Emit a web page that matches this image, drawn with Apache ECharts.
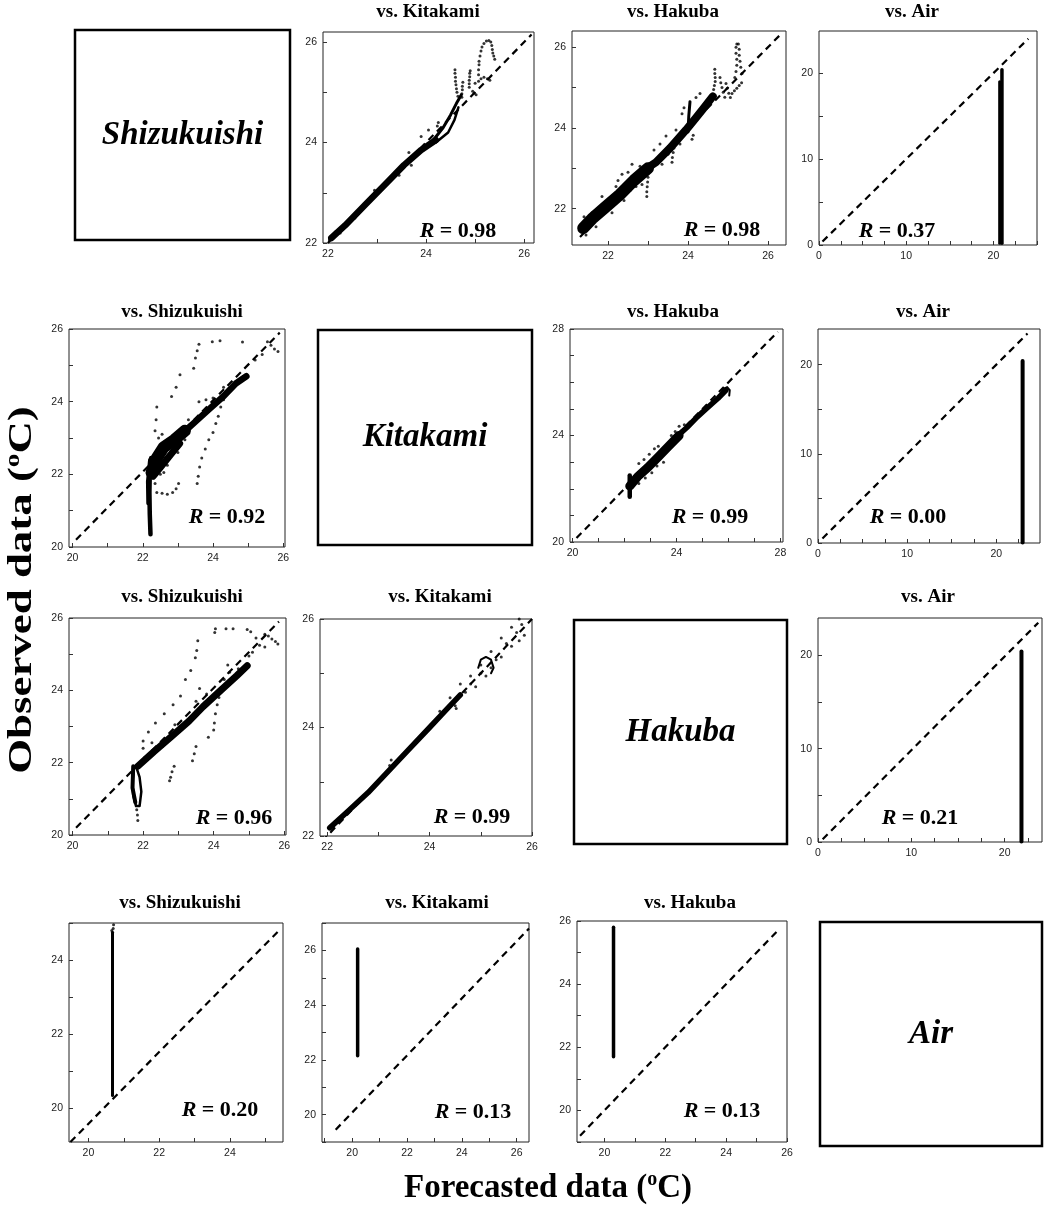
<!DOCTYPE html>
<html><head><meta charset="utf-8">
<script src="https://cdn.jsdelivr.net/npm/echarts@6.0.0/dist/echarts.min.js"></script>
<style>html,body{margin:0;padding:0;background:#fff}#c{width:1044px;height:1209px}</style>
</head><body><div id="c"></div>
<script>
// ---------------- names / labels ----------------
const stations = ['Shizukuishi', 'Kitakami', 'Hakuba', 'Air'];
const R_vals = ['0.98', '0.98', '0.37', '0.92', '0.99', '0.00', '0.96', '0.99', '0.21', '0.20', '0.13', '0.13'];
const xTitle = 'Forecasted data';
const yTitle = 'Observed data';

// ---------------- tick labels ----------------
const lab_22_26 = [22, 24, 26];
const tick_22_26 = [22, 23, 24, 25, 26];
const lab_20_26 = [20, 22, 24, 26];
const tick_20_26 = [20, 21, 22, 23, 24, 25, 26];
const tick_19_27 = [19, 20, 21, 22, 23, 24, 25, 26, 27];
const lab_20_28 = [20, 24, 28];
const tick_20_28 = [20, 21, 22, 23, 24, 25, 26, 27, 28];
const lab_0_20 = [0, 10, 20];
const tick_0_25_x = [0, 2.5, 5, 7.5, 10, 12.5, 15, 17.5, 20, 22.5, 25];
const tick_0_25_y = [0, 5, 10, 15, 20];
const lab_20_24 = [20, 22, 24];
const tick_19_25 = [20, 21, 22, 23, 24, 25];

// ---------------- row 1: Shizukuishi ----------------
const shiz_kit_diag = [[22.0, 22.0], [26.15, 26.15]];
const shiz_kit_band1 = [[22.07, 22.1], [22.35, 22.35], [22.75, 22.75], [23.2, 23.2], [23.55, 23.55], [23.9, 23.85], [24.2, 24.05]];
const shiz_kit_band2 = [[24.15, 24.05], [24.35, 24.3], [24.5, 24.55], [24.62, 24.78], [24.72, 24.95]];
const shiz_kit_band3 = [[24.2, 24.0], [24.45, 24.2], [24.58, 24.45], [24.66, 24.7]];
const shiz_kit_dots = [[22.15, 22.22], [22.25, 22.2], [23.9, 24.12], [24.05, 24.25], [24.23, 24.33], [24.25, 24.4],
  [24.59, 25.45], [24.59, 25.38], [24.6, 25.3], [24.6, 25.22], [24.61, 25.15], [24.62, 25.07], [24.63, 25.0], [24.65, 24.92],
  [24.73, 24.9], [24.73, 24.97], [24.74, 25.05], [24.74, 25.12], [24.75, 25.2],
  [24.88, 25.1], [24.88, 25.17], [24.88, 25.24], [24.89, 25.31], [24.89, 25.38], [24.9, 25.43],
  [24.95, 25.02], [25.0, 25.18], [25.07, 25.22], [25.12, 25.27], [25.18, 25.3], [25.25, 25.27], [25.3, 25.24],
  [25.07, 25.35], [25.07, 25.45], [25.08, 25.55], [25.08, 25.62], [25.1, 25.72], [25.12, 25.82], [25.14, 25.9],
  [25.18, 25.97], [25.23, 26.02], [25.28, 26.03], [25.32, 26.0], [25.34, 25.93], [25.35, 25.85], [25.36, 25.78],
  [25.38, 25.72], [25.4, 25.66], [24.98, 24.98], [25.02, 24.95], [22.55, 22.5], [22.95, 23.05], [23.45, 23.35],
  [23.65, 23.8], [23.7, 23.55]];

const shiz_hak_diag = [[21.3, 21.3], [26.3, 26.3]];
const shiz_hak_band1 = [[21.38, 21.52], [21.6, 21.75], [21.95, 22.05], [22.3, 22.35], [22.65, 22.7], [23.0, 23.0]];
const shiz_hak_band2 = [[22.9, 22.95], [23.2, 23.15], [23.55, 23.5], [23.95, 23.95], [24.2, 24.25], [24.4, 24.5], [24.62, 24.78]];
const shiz_hak_band3 = [[24.0, 23.9], [24.02, 24.3], [24.05, 24.65]];
const shiz_hak_dots = [[21.45, 21.35], [21.5, 21.7], [21.6, 21.9], [21.75, 22.0], [21.85, 22.3], [22.05, 22.25], [22.2, 22.55],
  [22.35, 22.85], [22.5, 22.9], [22.55, 22.45], [22.7, 22.55], [22.8, 23.05], [23.3, 23.6], [23.45, 23.8], [23.5, 23.35],
  [23.7, 23.95], [23.85, 24.35], [23.9, 24.5], [24.2, 24.75], [24.3, 24.85], [24.45, 24.6], [21.4, 21.8], [21.7, 21.55],
  [22.1, 21.9], [22.4, 22.2], [22.25, 22.7], [22.6, 23.1], [22.85, 22.6], [23.15, 23.45], [23.35, 23.1], [23.8, 23.6],
  [22.97, 22.3], [22.97, 22.42], [22.98, 22.54], [22.99, 22.66], [23.0, 22.78], [23.02, 22.9],
  [23.6, 23.15], [23.61, 23.27], [23.63, 23.39], [23.65, 23.5], [24.1, 23.72], [24.13, 23.82],
  [24.67, 25.45], [24.67, 25.35], [24.68, 25.25], [24.68, 25.15], [24.66, 25.05], [24.64, 24.95],
  [24.8, 25.25], [24.82, 25.12], [24.85, 25.0], [24.88, 24.88], [24.92, 24.76],
  [24.95, 25.1], [24.98, 24.98], [25.02, 24.86], [25.06, 24.75],
  [25.1, 24.85], [25.16, 24.92], [25.22, 24.98], [25.28, 25.05], [25.34, 25.12],
  [25.17, 25.25], [25.2, 25.4], [25.22, 25.55], [25.22, 25.7], [25.2, 25.85], [25.2, 26.0], [25.22, 26.08],
  [25.26, 26.08], [25.28, 25.95], [25.28, 25.8], [25.3, 25.65], [25.32, 25.5], [25.35, 25.35]];

const shiz_air_diag = [[0.4, 0.4], [24.0, 24.0]];
const shiz_air_band1 = [[20.72, 0.2], [20.72, 19.0]];
const shiz_air_band2 = [[20.98, 0.2], [20.98, 20.4]];

// ---------------- row 2: Kitakami ----------------
const kit_shiz_diag = [[20.1, 20.2], [25.9, 25.9]];
const kit_shiz_spike = [[22.22, 20.35], [22.2, 20.9], [22.19, 21.5], [22.2, 22.0], [22.24, 22.45]];
const kit_shiz_spike2 = [[22.15, 21.2], [22.14, 21.8], [22.2, 22.4]];
const kit_shiz_blob = [[22.25, 22.05], [22.4, 22.45], [22.6, 22.75], [22.9, 22.95], [23.2, 23.2]];
const kit_shiz_blob2 = [[22.3, 21.95], [22.55, 22.25], [22.8, 22.55], [23.05, 22.85]];
const kit_shiz_band = [[23.1, 23.1], [23.5, 23.45], [23.9, 23.8], [24.3, 24.15], [24.65, 24.5], [24.95, 24.7]];
const kit_shiz_dots = [[22.35, 23.2], [22.38, 23.5], [22.4, 23.85],
  [22.82, 24.14], [22.95, 24.4], [23.06, 24.74], [23.45, 24.92], [23.5, 25.2], [23.55, 25.4], [23.6, 25.58],
  [23.98, 25.65], [24.2, 25.68], [24.84, 25.64],
  [25.2, 25.15], [25.4, 25.3], [25.55, 25.65], [25.65, 25.55], [25.75, 25.45], [25.85, 25.38],
  [23.55, 21.75], [23.58, 21.95], [23.62, 22.2], [23.68, 22.45], [23.78, 22.7], [23.88, 22.95], [24.0, 23.15],
  [24.08, 23.4], [24.15, 23.6], [24.22, 23.85], [24.3, 24.05],
  [22.4, 21.5], [22.55, 21.48], [22.7, 21.45], [22.85, 21.5], [22.95, 21.6], [23.02, 21.75],
  [22.3, 21.9], [22.35, 21.75], [22.5, 22.0], [22.6, 22.05], [22.7, 22.25], [23.0, 22.6], [23.2, 22.95],
  [22.45, 23.0], [22.55, 23.1], [23.3, 23.5], [23.6, 24.0], [23.8, 24.05], [24.0, 24.1], [24.3, 24.4]];

const kit_hak_diag = [[20.15, 20.15], [27.9, 27.9]];
const kit_hak_band1 = [[22.2, 21.7], [22.2, 22.5]];
const kit_hak_band2 = [[22.2, 22.1], [22.5, 22.45], [22.9, 22.8], [23.3, 23.2], [23.7, 23.6], [24.1, 24.0]];
const kit_hak_band3 = [[24.0, 23.95], [24.4, 24.3], [24.8, 24.7], [25.2, 25.05], [25.6, 25.4], [25.9, 25.7]];
const kit_hak_hook = [[25.75, 25.72], [25.95, 25.82], [26.05, 25.7], [26.03, 25.5]];
const kit_hak_dots = [[22.55, 22.95], [22.75, 23.1], [22.95, 23.3], [23.15, 23.5], [23.3, 23.6], [23.8, 24.0],
  [23.95, 24.15], [24.1, 24.35], [24.3, 24.4], [22.55, 22.2], [22.8, 22.4], [23.05, 22.6], [23.25, 22.85], [23.5, 23.0]];

const kit_air_diag = [[0.5, 0.5], [23.5, 23.5]];
const kit_air_band = [[22.95, 0.05], [22.95, 20.4]];

// ---------------- row 3: Hakuba ----------------
const hak_shiz_diag = [[20.1, 20.2], [25.85, 25.9]];
const hak_shiz_loop = [[21.75, 21.9], [21.7, 21.5], [21.72, 21.1], [21.8, 20.8], [21.9, 20.8], [21.95, 21.2], [21.9, 21.6], [21.8, 21.9]];
const hak_shiz_loop2 = [[21.72, 21.9], [21.7, 21.3], [21.78, 20.9]];
const hak_shiz_band = [[21.85, 21.9], [22.3, 22.3], [22.8, 22.72], [23.3, 23.15], [23.7, 23.55], [24.2, 24.0], [24.65, 24.4], [24.95, 24.68]];
const hak_shiz_dots = [[21.82, 20.7], [21.84, 20.55], [21.85, 20.4],
  [22.0, 22.6], [22.15, 22.85], [22.35, 23.1], [22.6, 23.35], [22.85, 23.6], [23.06, 23.84], [23.2, 24.3], [23.35, 24.55],
  [23.48, 24.9], [23.52, 25.1], [23.55, 25.37],
  [24.03, 25.6], [24.05, 25.7], [24.35, 25.7], [24.55, 25.7], [24.95, 25.68], [25.05, 25.62],
  [25.45, 25.55], [25.55, 25.5], [25.65, 25.42], [25.75, 25.35], [25.82, 25.28], [25.3, 25.25], [25.45, 25.2], [25.2, 25.45],
  [23.4, 22.05], [23.45, 22.25], [23.5, 22.45], [23.85, 22.7], [24.0, 22.9], [24.02, 23.1], [24.05, 23.35], [24.1, 23.6],
  [24.15, 23.8], [24.25, 24.05],
  [22.75, 21.5], [22.78, 21.6], [22.82, 21.75], [22.88, 21.9],
  [22.0, 22.4], [22.05, 22.15], [22.25, 22.55], [22.55, 22.45], [22.9, 23.05], [23.5, 23.7], [23.6, 24.05], [23.8, 23.9],
  [24.3, 24.3], [24.45, 24.5], [24.7, 24.6], [24.4, 24.7], [25.0, 24.95], [25.1, 25.05]];

const hak_kit_diag = [[21.9, 21.9], [26.0, 26.0]];
const hak_kit_band = [[22.05, 22.15], [22.4, 22.45], [22.8, 22.8], [23.2, 23.2], [23.6, 23.6], [24.0, 24.0], [24.3, 24.3], [24.6, 24.6]];
const hak_kit_loop = [[24.95, 25.1], [25.0, 25.25], [25.1, 25.3], [25.2, 25.25], [25.25, 25.1], [25.2, 25.0]];
const hak_kit_dots = [[24.2, 24.3], [24.4, 24.55], [24.6, 24.8], [24.8, 24.95], [25.0, 25.15], [25.2, 25.4], [25.4, 25.65],
  [25.6, 25.85], [25.75, 26.0],
  [24.6, 24.6], [24.8, 24.8], [25.0, 25.0], [25.3, 25.25], [25.5, 25.55], [25.7, 25.75], [25.8, 25.9],
  [24.7, 24.65], [24.9, 24.75], [25.1, 24.95], [25.2, 25.1], [25.4, 25.3], [25.6, 25.5], [25.75, 25.6], [25.85, 25.7],
  [24.5, 24.4], [24.52, 24.35], [23.22, 23.3], [23.25, 23.4]];

const hak_air_diag = [[0.5, 0.3], [23.6, 23.5]];
const hak_air_band = [[21.8, 0.05], [21.8, 20.4]];

// ---------------- row 4: Air ----------------
const air_shiz_diag = [[19.49, 19.1], [25.39, 24.8]];
const air_shiz_band = [[20.68, 20.35], [20.68, 24.75]];
const air_shiz_dots = [[20.7, 24.85], [20.71, 24.95], [20.66, 24.8]];

const air_kit_diag = [[19.4, 19.45], [26.45, 26.8]];
const air_kit_band = [[20.2, 22.15], [20.2, 26.05]];

const air_hak_diag = [[19.2, 19.2], [25.7, 25.7]];
const air_hak_band = [[20.3, 21.7], [20.3, 25.8]];

// ---------------- layout (pixels) ----------------
const SERIF = "'Liberation Serif','Times New Roman','DejaVu Serif',serif";
const SANS = "'Liberation Sans',Arial,Helvetica,sans-serif";

const panels = [
  {g: [323, 32, 211, 211], x: [21.9, 26.2], y: [22, 26.2], xl: lab_22_26, xt: tick_22_26, yl: lab_22_26, yt: tick_22_26,
   t: 'vs. ' + stations[1], tp: [428, 12], r: R_vals[0], rp: [458, 231], diag: shiz_kit_diag,
   bands: [[shiz_kit_band1, 6.5], [shiz_kit_band2, 3], [shiz_kit_band3, 2.5]], dots: shiz_kit_dots},
  {g: [572, 31, 214, 214], x: [21.1, 26.45], y: [21.1, 26.4], xl: lab_22_26, xt: tick_22_26, yl: lab_22_26, yt: tick_22_26,
   t: 'vs. ' + stations[2], tp: [673, 12], r: R_vals[1], rp: [722, 230], diag: shiz_hak_diag,
   bands: [[shiz_hak_band1, 12], [shiz_hak_band2, 8], [shiz_hak_band3, 3]], dots: shiz_hak_dots},
  {g: [819, 31, 218, 214], x: [0, 25], y: [0, 24.9], xl: lab_0_20, xt: tick_0_25_x, yl: lab_0_20, yt: tick_0_25_y,
   t: 'vs. ' + stations[3], tp: [912, 12], r: R_vals[2], rp: [897, 231], diag: shiz_air_diag,
   bands: [[shiz_air_band1, 3], [shiz_air_band2, 3.5]], dots: []},

  {g: [69, 329, 216, 218], x: [19.9, 26.05], y: [20, 26], xl: lab_20_26, xt: tick_20_26, yl: lab_20_26, yt: tick_20_26,
   t: 'vs. ' + stations[0], tp: [182, 312], r: R_vals[3], rp: [227, 517], diag: kit_shiz_diag,
   bands: [[kit_shiz_spike, 4.5], [kit_shiz_spike2, 3.5], [kit_shiz_blob, 12], [kit_shiz_blob2, 7], [kit_shiz_band, 6.5]], dots: kit_shiz_dots},
  {g: [570, 329, 213, 213], x: [19.9, 28.1], y: [20, 28], xl: lab_20_28, xt: tick_20_28, yl: lab_20_28, yt: tick_20_28,
   t: 'vs. ' + stations[2], tp: [673, 312], r: R_vals[4], rp: [710, 517], diag: kit_hak_diag,
   bands: [[kit_hak_band1, 4.5], [kit_hak_band2, 9], [kit_hak_band3, 5.5], [kit_hak_hook, 2]], dots: kit_hak_dots},
  {g: [818, 329, 222, 214], x: [0, 24.9], y: [0, 24], xl: lab_0_20, xt: tick_0_25_x, yl: lab_0_20, yt: tick_0_25_y,
   t: 'vs. ' + stations[3], tp: [923, 312], r: R_vals[5], rp: [908, 517], diag: kit_air_diag,
   bands: [[kit_air_band, 4]], dots: []},

  {g: [69, 618, 217, 217], x: [19.9, 26.05], y: [20, 26], xl: lab_20_26, xt: tick_20_26, yl: lab_20_26, yt: tick_20_26,
   t: 'vs. ' + stations[0], tp: [182, 597], r: R_vals[6], rp: [234, 818], diag: hak_shiz_diag,
   bands: [[hak_shiz_loop, 2.5], [hak_shiz_loop2, 4], [hak_shiz_band, 7]], dots: hak_shiz_dots},
  {g: [320, 619, 212, 217], x: [21.86, 26], y: [22, 26], xl: lab_22_26, xt: tick_22_26, yl: lab_22_26, yt: tick_22_26,
   t: 'vs. ' + stations[1], tp: [440, 597], r: R_vals[7], rp: [472, 817], diag: hak_kit_diag,
   bands: [[hak_kit_band, 5.5], [hak_kit_loop, 2]], dots: hak_kit_dots},
  {g: [818, 618, 224, 224], x: [0, 24], y: [0, 24], xl: lab_0_20, xt: tick_0_25_x, yl: lab_0_20, yt: tick_0_25_y,
   t: 'vs. ' + stations[3], tp: [928, 597], r: R_vals[8], rp: [920, 818], diag: hak_air_diag,
   bands: [[hak_air_band, 4]], dots: []},

  {g: [69, 923, 214, 219], x: [19.45, 25.5], y: [19.1, 25], xl: lab_20_24, xt: tick_19_25, yl: lab_20_24, yt: tick_19_25,
   t: 'vs. ' + stations[0], tp: [180, 903], r: R_vals[9], rp: [220, 1110], diag: air_shiz_diag,
   bands: [[air_shiz_band, 3]], dots: air_shiz_dots},
  {g: [322, 923, 207, 219], x: [18.9, 26.45], y: [19, 27], xl: lab_20_26, xt: tick_19_27, yl: lab_20_26, yt: tick_19_27,
   t: 'vs. ' + stations[1], tp: [437, 903], r: R_vals[10], rp: [473, 1112], diag: air_kit_diag,
   bands: [[air_kit_band, 3.5]], dots: []},
  {g: [577, 921, 210, 221], x: [19.1, 26], y: [19, 26], xl: lab_20_26, xt: tick_19_27, yl: lab_20_26, yt: tick_19_27,
   t: 'vs. ' + stations[2], tp: [690, 903], r: R_vals[11], rp: [722, 1111], diag: air_hak_diag,
   bands: [[air_hak_band, 3.5]], dots: []}
];

const boxes = [
  {rect: [75, 30, 215, 210], name: stations[0]},
  {rect: [318, 330, 214, 215], name: stations[1]},
  {rect: [574, 620, 213, 224], name: stations[2]},
  {rect: [820, 922, 222, 224], name: stations[3]}
];

// ---------------- build option ----------------
const grid = [], xAxis = [], yAxis = [], series = [], graphic = [];

function axisCommon(lab, tick) {
  return {
    type: 'value',
    axisLine: {show: false},
    splitLine: {show: false},
    axisTick: {show: true, inside: true, length: 4, customValues: tick, lineStyle: {color: '#333', width: 1}},
    axisLabel: {customValues: lab, fontSize: 10.5, color: '#222', fontFamily: SANS, margin: 6, showMinLabel: true, showMaxLabel: true}
  };
}

panels.forEach((p, i) => {
  grid.push({left: p.g[0], top: p.g[1], width: p.g[2], height: p.g[3], show: true,
    borderColor: '#222', borderWidth: 1, backgroundColor: 'transparent', containLabel: false});
  xAxis.push(Object.assign(axisCommon(p.xl, p.xt), {gridIndex: i, min: p.x[0], max: p.x[1]}));
  yAxis.push(Object.assign(axisCommon(p.yl, p.yt), {gridIndex: i, min: p.y[0], max: p.y[1]}));
  series.push({type: 'line', xAxisIndex: i, yAxisIndex: i, data: p.diag, showSymbol: false, silent: true, z: 2,
    lineStyle: {color: '#000', width: 2.2, type: [7, 5]}});
  p.bands.forEach(b => {
    series.push({type: 'line', xAxisIndex: i, yAxisIndex: i, data: b[0], showSymbol: false, silent: true, z: 3,
      lineStyle: {color: '#000', width: b[1], cap: 'round', join: 'round'}});
  });
  if (p.dots.length) {
    series.push({type: 'scatter', xAxisIndex: i, yAxisIndex: i, data: p.dots, symbolSize: 3, silent: true, z: 4,
      itemStyle: {color: '#000'}});
  }
  graphic.push({type: 'text', x: p.tp[0], y: p.tp[1], z: 10,
    style: {text: p.t, font: 'bold 19px ' + SERIF, fill: '#000', textAlign: 'center', textVerticalAlign: 'middle'}});
  graphic.push({type: 'text', x: p.rp[0], y: p.rp[1], z: 10,
    style: {text: '{i|R} = ' + p.r, fill: '#000', textAlign: 'center', textVerticalAlign: 'middle',
      font: 'bold 22px ' + SERIF,
      rich: {i: {fontStyle: 'italic', fontWeight: 'bold', fontSize: 22, fontFamily: SERIF}}}});
});

boxes.forEach(b => {
  graphic.push({type: 'rect', shape: {x: b.rect[0], y: b.rect[1], width: b.rect[2], height: b.rect[3]},
    style: {fill: 'none', stroke: '#000', lineWidth: 2.5}, z: 10});
  graphic.push({type: 'text', x: b.rect[0] + b.rect[2] / 2, y: b.rect[1] + b.rect[3] / 2, z: 10,
    style: {text: b.name, font: 'italic bold 33px ' + SERIF, fill: '#000', textAlign: 'center', textVerticalAlign: 'middle'}});
});

const supRich = {
  b: {fontSize: 33, fontWeight: 'bold', fontFamily: SERIF, lineHeight: 37},
  s: {fontSize: 20, fontWeight: 'bold', fontFamily: SERIF, verticalAlign: 'top', lineHeight: 37}
};
graphic.push({type: 'text', x: 548, y: 1188, z: 10,
  style: {text: '{b|' + xTitle + ' (}{s|o}{b|C)}', rich: supRich, fill: '#000', textAlign: 'center', textVerticalAlign: 'middle'}});
graphic.push({type: 'text', x: 22, y: 590, rotation: Math.PI / 2, scaleX: 1.36, z: 10,
  style: {text: '{b|' + yTitle + ' (}{s|o}{b|C)}', rich: supRich, fill: '#000', textAlign: 'center', textVerticalAlign: 'middle'}});

const chart = echarts.init(document.getElementById('c'), null, {renderer: 'canvas'});
chart.setOption({animation: false, backgroundColor: '#fff', grid, xAxis, yAxis, series, graphic});
</script></body></html>
